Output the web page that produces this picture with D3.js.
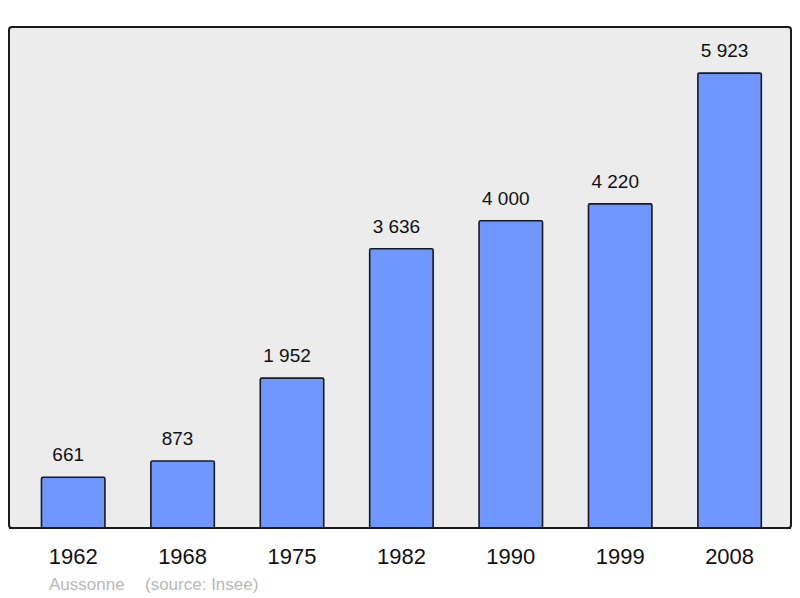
<!DOCTYPE html>
<html>
<head>
<meta charset="utf-8">
<script src="https://cdn.jsdelivr.net/npm/d3@7"></script>
<style>
  body { margin: 0; background: #fff; }
  text { font-family: "Liberation Sans", Arial, sans-serif; }
</style>
</head>
<body>
<script>
const w = 800;
const h = 598;

const years = ["1962", "1968", "1975", "1982", "1990", "1999", "2008"];
const population = [661, 873, 1952, 3636, 4000, 4220, 5923];
const valueLabels = ["661", "873", "1 952", "3 636", "4 000", "4 220", "5 923"];

const svg = d3.select("body")
              .append("svg")
              .attr("width", w)
              .attr("height", h);

// panel
svg.append("rect")
   .attr("x", 9)
   .attr("y", 27)
   .attr("width", 782)
   .attr("height", 501)
   .attr("rx", 3)
   .attr("ry", 3)
   .style("fill", "#ececec")
   .style("stroke", "#1a1a1a")
   .style("stroke-width", 2);

const x = d3.scaleBand()
            .domain(years)
            .range([18.5, 784.3])
            .paddingInner(0.42)
            .paddingOuter(0.21);

const y = d3.scaleLinear()
            .domain([0, 6523])
            .range([528, 27]);

const data = years.map((d, i) => [d, population[i], valueLabels[i]]);

svg.selectAll("rect.bar")
   .data(data)
   .enter()
   .append("rect")
   .attr("class", "bar")
   .attr("x", (d) => x(d[0]))
   .attr("y", (d) => y(d[1]))
   .attr("width", x.bandwidth())
   .attr("height", (d) => y(0) - y(d[1]))
   .attr("rx", 1.5)
   .attr("ry", 1.5)
   .style("fill", "#7096ff")
   .style("stroke", "#1a1a1a")
   .style("stroke-width", 1.6);

svg.selectAll("text.val")
   .data(data)
   .enter()
   .append("text")
   .attr("class", "val")
   .attr("x", (d) => x(d[0]) + x.bandwidth() / 2 - 5)
   .attr("y", (d) => y(d[1]) - 16)
   .attr("text-anchor", "middle")
   .style("font-size", "19px")
   .style("fill", "#111")
   .text((d) => d[2]);

// baseline redraw over bar bottoms
svg.append("line")
   .attr("x1", 9).attr("x2", 791)
   .attr("y1", 528).attr("y2", 528)
   .style("stroke", "#1a1a1a")
   .style("stroke-width", 2);

const xAxis = svg.append("g")
   .attr("transform", "translate(0,528)")
   .call(d3.axisBottom(x).tickSize(0).tickPadding(0));
xAxis.select(".domain").remove();
xAxis.selectAll("text")
     .attr("y", 36)
     .attr("dy", 0)
     .style("font-family", "'Liberation Sans', Arial, sans-serif")
     .style("font-size", "22px")
     .style("fill", "#111");

svg.append("text")
   .attr("x", 49)
   .attr("y", 590)
   .style("font-size", "17px")
   .style("fill", "#b8b8b8")
   .text("Aussonne");

svg.append("text")
   .attr("x", 145)
   .attr("y", 590)
   .style("font-size", "17px")
   .style("fill", "#b8b8b8")
   .text("(source: Insee)");
</script>
</body>
</html>
